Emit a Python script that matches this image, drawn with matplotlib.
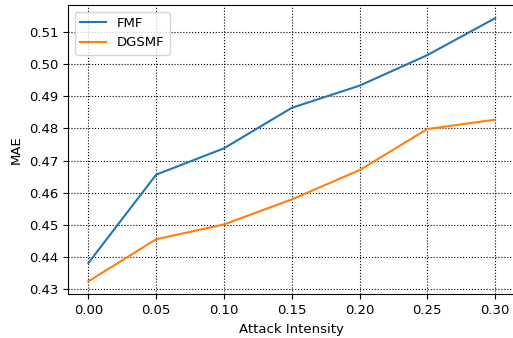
import matplotlib
matplotlib.use("Agg")
from matplotlib import pyplot as plt
from matplotlib.ticker import MultipleLocator

# attack intensity vs MAE
intensity = [0.00, 0.05, 0.10, 0.15, 0.20, 0.25, 0.30]
fmf = [0.4381, 0.4656, 0.4738, 0.4864, 0.4933, 0.5028, 0.5143]
dgsmf = [0.4324, 0.4455, 0.4501, 0.4579, 0.4670, 0.4798, 0.4827]

plt.rcParams["font.size"] = 9.5

fig = plt.figure(figsize=(5.13, 3.38), dpi=100)
ax = fig.add_axes([0.1326, 0.1287, 0.8723, 0.8565])

ax.plot(intensity, fmf, label="FMF", color="#1f77b4", linewidth=1.5)
ax.plot(intensity, dgsmf, label="DGSMF", color="#ff7f0e", linewidth=1.5)

ax.set_xticks(intensity)
ax.yaxis.set_major_locator(MultipleLocator(0.01))
ax.set_xlabel("Attack Intensity")
ax.set_ylabel("MAE")
ax.grid(True, linestyle=":", color="black", linewidth=0.8)
ax.legend(loc="upper left")

fig.savefig("out.png", dpi=100)
